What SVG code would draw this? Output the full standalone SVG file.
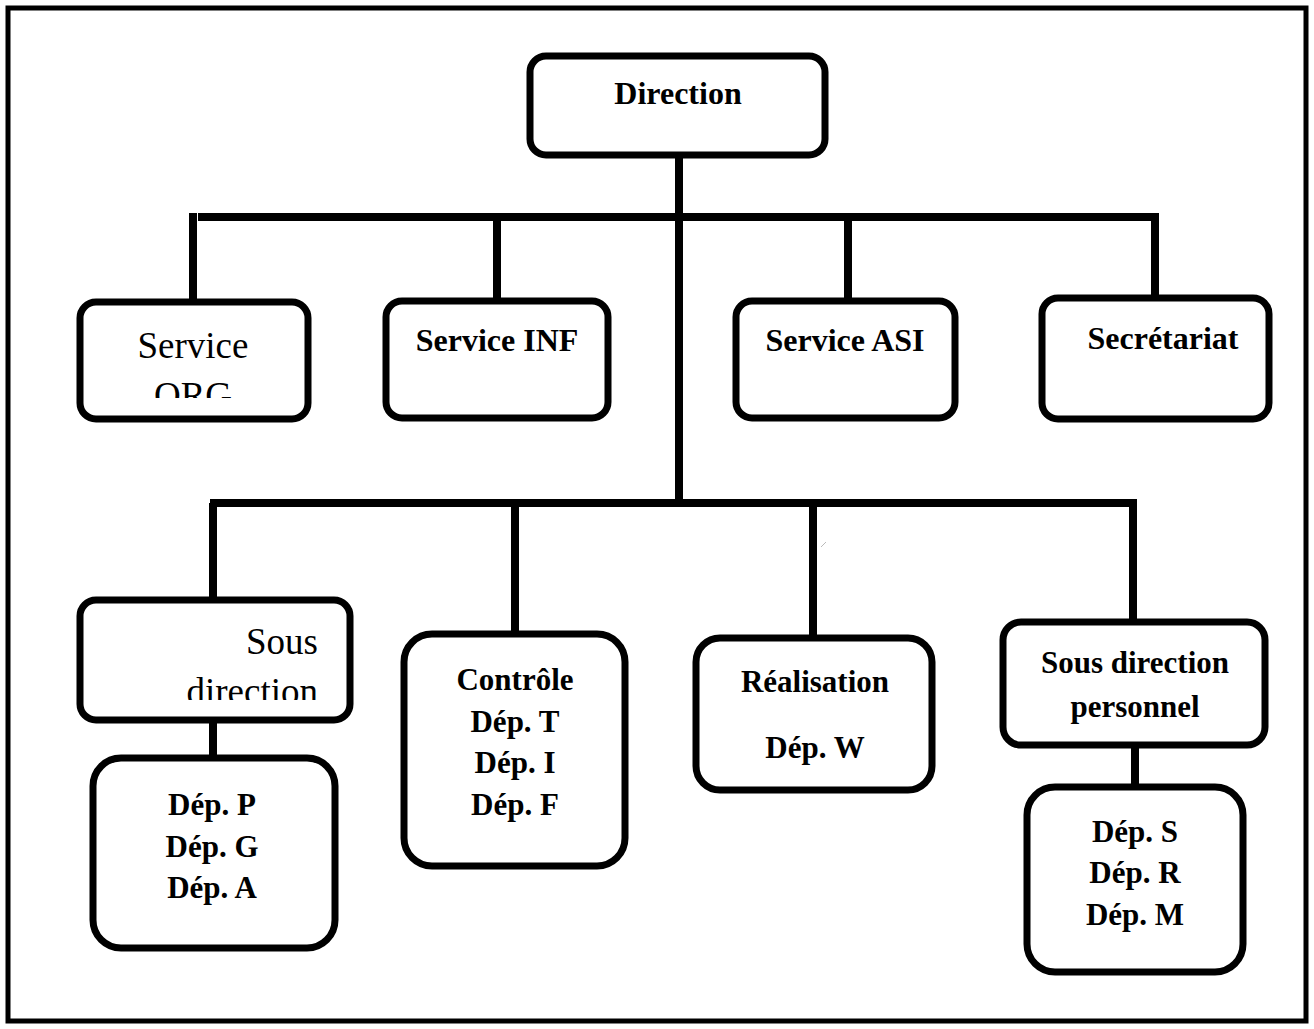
<svg xmlns="http://www.w3.org/2000/svg" width="1314" height="1029" viewBox="0 0 1314 1029">
<style>
.box{fill:#fff;stroke:#000;stroke-width:7}
.ln{stroke:#000;stroke-width:8;fill:none}
.b{font-family:"Liberation Serif","Times New Roman",serif;font-weight:bold;font-size:32px;fill:#000;text-anchor:middle}
.d{font-family:"Liberation Serif","Times New Roman",serif;font-weight:bold;font-size:31px;fill:#000;text-anchor:middle}
.r{font-family:"Liberation Serif","Times New Roman",serif;font-size:37px;fill:#000}
</style>
<defs>
<clipPath id="clipOrg"><rect x="80" y="300" width="228" height="98"/></clipPath>
<clipPath id="clipSous"><rect x="80" y="600" width="270" height="100"/></clipPath>
</defs>
<rect x="8" y="8" width="1298" height="1013" fill="#fff" stroke="#000" stroke-width="5"/>
<g id="connectors">
<line class="ln" x1="679" y1="155" x2="679" y2="503"/>
<line class="ln" x1="198" y1="217" x2="1152" y2="217"/>
<line class="ln" x1="193" y1="213" x2="193" y2="302"/>
<line class="ln" x1="497" y1="217" x2="497" y2="300"/>
<line class="ln" x1="848" y1="217" x2="848" y2="300"/>
<line class="ln" x1="1155" y1="213" x2="1155" y2="298"/>
<line class="ln" x1="210" y1="503" x2="1137" y2="503"/>
<line class="ln" x1="213" y1="503" x2="213" y2="600"/>
<line class="ln" x1="515" y1="503" x2="515" y2="634"/>
<line class="ln" x1="813" y1="503" x2="813" y2="638"/>
<line class="ln" x1="1133" y1="503" x2="1133" y2="622"/>
<line class="ln" x1="213" y1="720" x2="213" y2="758"/>
<line class="ln" x1="1135" y1="745" x2="1135" y2="787"/>
<line x1="821" y1="547" x2="826" y2="542" stroke="#bbb" stroke-width="1"/>
</g>
<g id="direction">
<rect class="box" x="530" y="56" width="295" height="99" rx="16"/>
<text class="b" x="678" y="104">Direction</text>
</g>
<g id="service-org">
<rect class="box" x="80" y="302" width="228" height="117" rx="16"/>
<g clip-path="url(#clipOrg)">
<text class="r" x="193" y="358" text-anchor="middle">Service</text>
<text class="r" x="193" y="408" text-anchor="middle">ORG</text>
</g>
</g>
<g id="service-inf">
<rect class="box" x="386" y="301" width="222" height="117" rx="16"/>
<text class="b" x="497" y="351">Service INF</text>
</g>
<g id="service-asi">
<rect class="box" x="736" y="301" width="219" height="117" rx="16"/>
<text class="b" x="845" y="351">Service ASI</text>
</g>
<g id="secretariat">
<rect class="box" x="1042" y="298" width="227" height="121" rx="16"/>
<text class="b" x="1163" y="349">Secrétariat</text>
</g>
<g id="sous-direction">
<rect class="box" x="80" y="600" width="270" height="120" rx="16"/>
<g clip-path="url(#clipSous)">
<text class="r" x="318" y="654" text-anchor="end">Sous</text>
<text class="r" x="318" y="704" text-anchor="end">direction</text>
</g>
</g>
<g id="dep-pga">
<rect class="box" x="93" y="758" width="242" height="190" rx="28"/>
<text class="d" x="212" y="815">Dép. P</text>
<text class="d" x="212" y="857">Dép. G</text>
<text class="d" x="212" y="898">Dép. A</text>
</g>
<g id="controle">
<rect class="box" x="404" y="634" width="221" height="232" rx="28"/>
<text class="d" x="515" y="690">Contrôle</text>
<text class="d" x="515" y="732">Dép. T</text>
<text class="d" x="515" y="773">Dép. I</text>
<text class="d" x="515" y="815">Dép. F</text>
</g>
<g id="realisation">
<rect class="box" x="696" y="638" width="236" height="152" rx="24"/>
<text class="d" x="815" y="692">Réalisation</text>
<text class="d" x="815" y="758">Dép. W</text>
</g>
<g id="sous-direction-personnel">
<rect class="box" x="1003" y="622" width="262" height="123" rx="18"/>
<text class="d" x="1135" y="673">Sous direction</text>
<text class="d" x="1135" y="717">personnel</text>
</g>
<g id="dep-srm">
<rect class="box" x="1027" y="787" width="216" height="185" rx="28"/>
<text class="d" x="1135" y="842">Dép. S</text>
<text class="d" x="1135" y="883">Dép. R</text>
<text class="d" x="1135" y="925">Dép. M</text>
</g>
</svg>
